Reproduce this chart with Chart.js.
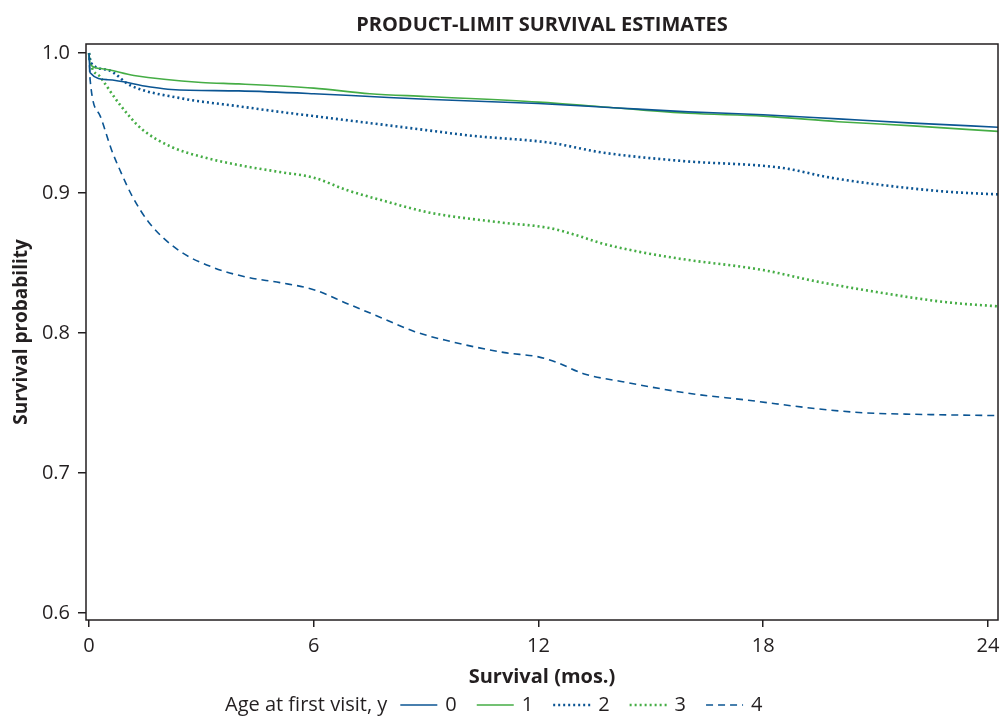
<!DOCTYPE html>
<html>
<head>
<meta charset="utf-8">
<script src="https://cdn.jsdelivr.net/npm/chart.js@4"></script>
<style>
  html, body { margin: 0; padding: 0; background: #fff; }
  #wrap { width: 1002px; height: 725px; position: relative; }
</style>
</head>
<body>
<div id="wrap"><canvas id="myChart"></canvas></div>
<script>
// survival curves, months vs probability
const months0 = [0, 0.03, 0.5, 1.6, 2.2, 4, 6, 7.5, 9, 12, 14, 16, 18, 20, 22, 24.3]
const surv0 = [1.0, 0.986, 0.981, 0.976, 0.974, 0.973, 0.971, 0.969, 0.967, 0.964, 0.961, 0.958, 0.956, 0.953, 0.95, 0.947]

const months1 = [0, 0.03, 0.3, 1.2, 3, 4, 6, 7.5, 9, 12, 14, 16, 18, 20, 22, 24.3]
const surv1 = [1.0, 0.992, 0.989, 0.984, 0.979, 0.978, 0.975, 0.971, 0.969, 0.965, 0.961, 0.957, 0.955, 0.951, 0.948, 0.944]

const months2 = [0, 0.05, 0.5, 1.1, 2.4, 4, 5.1, 6, 7.5, 9, 10.2, 12.3, 13.7, 15.8, 18.5, 19.8, 21.1, 22.9, 24.3]
const surv2 = [1.0, 0.993, 0.988, 0.977, 0.968, 0.962, 0.958, 0.955, 0.95, 0.945, 0.941, 0.936, 0.929, 0.923, 0.918, 0.911, 0.906, 0.901, 0.899]

const months3 = [0, 0.05, 0.3, 0.83, 1.4, 2.2, 3, 4, 5.1, 6, 6.9, 7.8, 9.1, 11, 12.3, 13, 13.7, 14.7, 15.8, 18, 19.4, 21.1, 22.9, 24.3]
const surv3 = [1.0, 0.992, 0.983, 0.963, 0.946, 0.933, 0.926, 0.92, 0.915, 0.911, 0.902, 0.895, 0.886, 0.879, 0.875, 0.87, 0.864, 0.858, 0.853, 0.845, 0.837, 0.829, 0.822, 0.819]

const months4 = [0, 0.03, 0.3, 0.6, 0.85, 1.15, 1.6, 2.4, 3.3, 4.2, 5.1, 6, 6.9, 7.8, 8.7, 9.5, 11.1, 12, 12.5, 13.2, 14.3, 16, 17.6, 19.4, 20.7, 22, 24.3]
const surv4 = [1.0, 0.981, 0.955, 0.931, 0.915, 0.898, 0.879, 0.859, 0.847, 0.84, 0.836, 0.831, 0.821, 0.811, 0.801, 0.795, 0.786, 0.783, 0.779, 0.771, 0.765, 0.757, 0.752, 0.746, 0.743, 0.742, 0.741]

const groupLabels = ["0", "1", "2", "3", "4"]
const xTicks = [0, 6, 12, 18, 24]
const yTicks = [0.6, 0.7, 0.8, 0.9, 1.0]

const blue = "#0b5593"
const green = "#45ad45"
const textColor = "#231f20"
const fontFamily = "'Open Sans', 'Noto Sans', sans-serif"

function toPoints(xs, ys) {
    return xs.map((x, i) => ({ x: x, y: ys[i] }))
}

const styles = [
    { color: blue, dash: [], width: 1.6 },
    { color: green, dash: [], width: 1.6 },
    { color: blue, dash: [2, 3], width: 2.6 },
    { color: green, dash: [2, 3], width: 2.6 },
    { color: blue, dash: [7, 5], width: 1.6 },
]
const allMonths = [months0, months1, months2, months3, months4]
const allSurv = [surv0, surv1, surv2, surv3, surv4]

const datasets = groupLabels.map((lab, i) => ({
    label: lab,
    data: toPoints(allMonths[i], allSurv[i]),
    borderColor: styles[i].color,
    borderDash: styles[i].dash,
    borderWidth: styles[i].width,
    pointRadius: 0,
    fill: false,
    cubicInterpolationMode: "monotone",
}))

// box around the plot area
const framePlugin = {
    id: "frame",
    afterDatasetsDraw(chart) {
        const { ctx, chartArea } = chart
        ctx.save()
        ctx.strokeStyle = "#231f20"
        ctx.lineWidth = 1.5
        ctx.strokeRect(chartArea.left, chartArea.top, chartArea.right - chartArea.left, chartArea.bottom - chartArea.top)
        ctx.restore()
    },
}

// inline legend at the bottom: "Age at first visit, y  —— 0  —— 1 ..."
const legendPlugin = {
    id: "inlineLegend",
    afterDraw(chart) {
        const ctx = chart.ctx
        const y = 705
        const sample = 37
        ctx.save()
        ctx.font = "20px " + fontFamily
        ctx.fillStyle = textColor
        ctx.textBaseline = "middle"
        const title = "Age at first visit, y"
        let x = 225
        ctx.fillText(title, x, y)
        x += ctx.measureText(title).width + 13
        chart.data.datasets.forEach((ds) => {
            ctx.beginPath()
            ctx.strokeStyle = ds.borderColor
            ctx.lineWidth = ds.borderWidth
            ctx.setLineDash(ds.borderDash)
            ctx.moveTo(x, y)
            ctx.lineTo(x + sample, y)
            ctx.stroke()
            ctx.setLineDash([])
            x += sample + 8
            ctx.fillStyle = textColor
            ctx.fillText(ds.label, x, y)
            x += ctx.measureText(ds.label).width + 20
        })
        ctx.restore()
    },
}

const ctx = document.getElementById("myChart").getContext("2d")

const myChart = new Chart(ctx, {
    type: "line",
    data: { datasets: datasets },
    options: {
        responsive: true,
        maintainAspectRatio: false,
        animation: false,
        layout: {
            padding: { left: 0, right: 4, top: 0, bottom: 36 },
        },
        scales: {
            x: {
                type: "linear",
                min: -0.08,
                max: 24.27,
                afterBuildTicks: (scale) => {
                    scale.ticks = xTicks.map((v) => ({ value: v }))
                },
                afterFit: (scale) => {
                    scale.height = 69
                    scale.paddingRight = 0 // let "24" hang past the frame
                },
                ticks: {
                    color: textColor,
                    font: { family: fontFamily, size: 20 },
                    padding: 7,
                    maxRotation: 0,
                    autoSkip: false,
                },
                grid: {
                    drawOnChartArea: false,
                    drawTicks: true,
                    tickLength: 7,
                    color: "#231f20",
                    lineWidth: 1.5,
                },
                border: { display: false },
                title: {
                    display: true,
                    text: "Survival (mos.)",
                    color: textColor,
                    font: { family: fontFamily, size: 20, weight: "bold" },
                    padding: { top: 4, bottom: 0 },
                },
            },
            y: {
                min: 0.595,
                max: 1.0065,
                afterBuildTicks: (scale) => {
                    scale.ticks = yTicks.map((v) => ({ value: v }))
                },
                afterFit: (scale) => {
                    scale.width = 86
                },
                ticks: {
                    color: textColor,
                    font: { family: fontFamily, size: 20 },
                    padding: 8,
                    callback: (v) => v.toFixed(1),
                },
                grid: {
                    drawOnChartArea: false,
                    drawTicks: true,
                    tickLength: 8,
                    color: "#231f20",
                    lineWidth: 1.5,
                },
                border: { display: false },
                title: {
                    display: true,
                    text: "Survival probability",
                    color: textColor,
                    font: { family: fontFamily, size: 19, weight: "bold" },
                    padding: { top: 10, bottom: 0 },
                },
            },
        },
        plugins: {
            legend: { display: false },
            tooltip: { enabled: false },
            title: {
                display: true,
                fullSize: false, // center over the plot area
                text: "PRODUCT-LIMIT SURVIVAL ESTIMATES",
                color: textColor,
                font: { family: fontFamily, size: 20, weight: "bold" },
                padding: { top: 13, bottom: 7 },
            },
        },
    },
    plugins: [framePlugin, legendPlugin],
})
</script>
</body>
</html>
